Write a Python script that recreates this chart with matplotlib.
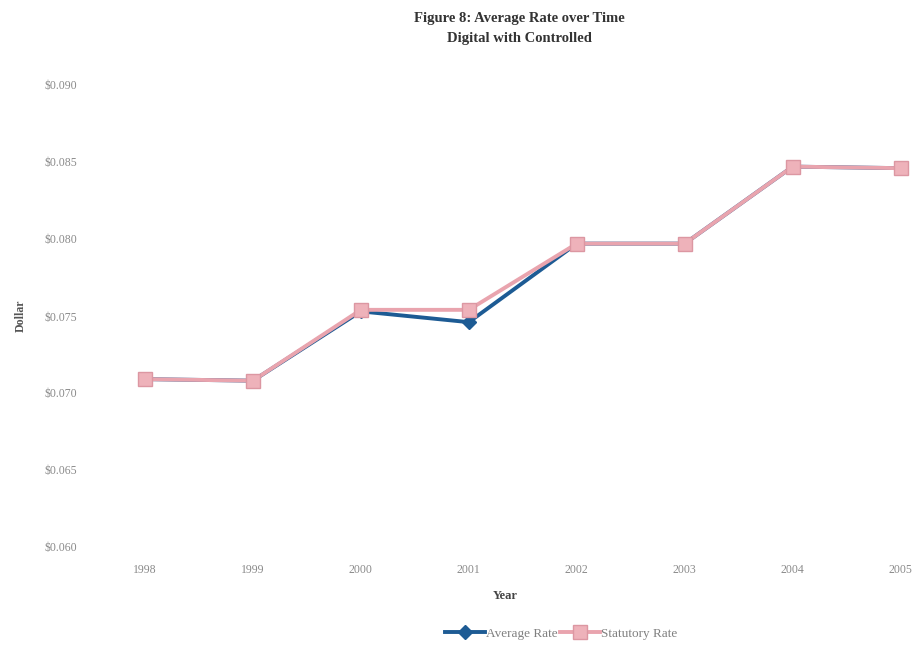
import matplotlib
matplotlib.use('Agg')
import matplotlib.pyplot as plt
from matplotlib.ticker import FuncFormatter

years = ["1998", "1999", "2000", "2001", "2002", "2003", "2004", "2005"]
average_rate = [0.0709, 0.0708, 0.0753, 0.0746, 0.0797, 0.0797, 0.0847, 0.0846]
statutory_rate = [0.0709, 0.0708, 0.0754, 0.0754, 0.0797, 0.0797, 0.0847, 0.0846]
y_ticks = [0.060, 0.065, 0.070, 0.075, 0.080, 0.085, 0.090]

plt.rcParams['font.family'] = ['Liberation Serif', 'DejaVu Serif']

fig = plt.figure(figsize=(9.2, 6.48), dpi=100)
ax = fig.add_axes([91 / 920, 101 / 648, 829 / 920, 462 / 648])

x = list(range(len(years)))
ax.plot(x, average_rate, color='#1d5b94', linewidth=2.8, marker='D',
        markersize=7, markerfacecolor='#1d5b94', markeredgecolor='#1d5b94',
        label='Average Rate', zorder=2)
ax.plot(x, statutory_rate, color='#e9a4ae', linewidth=2.8, marker='s',
        markersize=10, markerfacecolor='#eeb2ba', markeredgecolor='#dc97a2',
        label='Statutory Rate', zorder=3)

ax.set_xlim(-0.5, 7.18)
ax.set_ylim(0.060, 0.090)
ax.set_xticks(x)
ax.set_xticklabels(years)
ax.set_yticks(y_ticks)
ax.yaxis.set_major_formatter(FuncFormatter(lambda v, p: "${:.3f}".format(v)))
ax.tick_params(axis='both', length=0, labelsize=8.5, colors='#8a8a8a')
ax.tick_params(axis='x', pad=12)
ax.tick_params(axis='y', pad=10)
for s in ax.spines.values():
    s.set_visible(False)

ax.set_xlabel("Year", fontsize=9, fontweight='bold', color='#444444', labelpad=10)
ax.set_ylabel("Dollar", fontsize=8.5, fontweight='bold', color='#555555', labelpad=13)

fig.text(0.565, 0.972, "Figure 8: Average Rate over Time", ha='center', va='center',
         fontsize=10.5, fontweight='bold', color='#333333')
fig.text(0.565, 0.940, "Digital with Controlled", ha='center', va='center',
         fontsize=10.5, fontweight='bold', color='#333333')

fig.legend(loc='center', bbox_to_anchor=(0.61, 0.022), ncol=2, frameon=False,
           fontsize=9.5, handlelength=3.0, columnspacing=0.2, handletextpad=0.1,
           labelcolor='#808080')

fig.savefig("out.png", dpi=100)
